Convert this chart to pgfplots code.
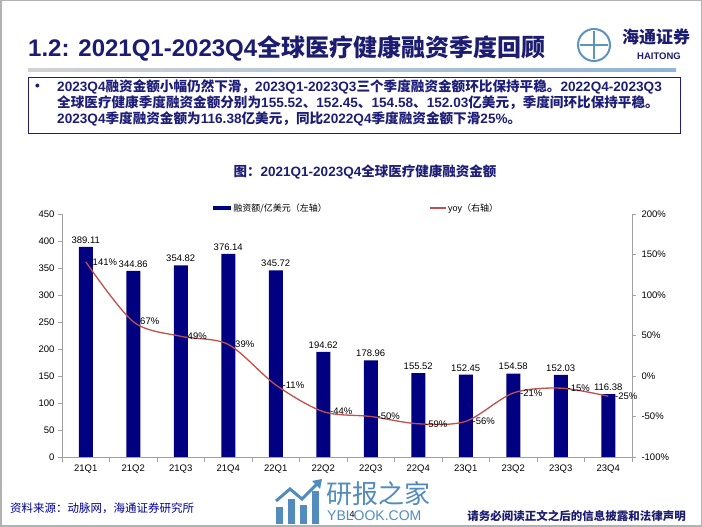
\documentclass[border=0pt]{standalone}
\usepackage{fontspec}
\setmainfont{Liberation Sans}
\newfontfamily\cjk{Noto Sans CJK SC}
\usepackage{pgfplots}
\pgfplotsset{compat=1.18}
\definecolor{navy}{RGB}{0,0,128}
\definecolor{yoyred}{RGB}{192,80,77}
\definecolor{ttl}{RGB}{28,28,112}
\definecolor{txt}{RGB}{30,30,120}
\definecolor{axgray}{RGB}{160,160,160}
\definecolor{wm}{RGB}{52,120,180}
\newcommand\C[1]{{\cjk #1}}
\begin{document}
\begin{tikzpicture}[x=1pt,y=1pt]
\useasboundingbox (0,0) rectangle (702,527);
\fill[white] (0,0) rectangle (702,527);
\draw[gray!60, line width=1.5pt] (0.75,0.75) rectangle (701.25,526.25);
% title
\node[anchor=west, text=ttl, font=\bfseries\fontsize{24}{28}\selectfont, inner sep=0] at (28,479) {1.2: 2021Q1-2023Q4\C{全球医疗健康融资季度回顾}};
% logo
\draw[wm!80, line width=2pt] (594,482) circle (16);
\draw[wm!80, line width=1.5pt] (580,482)--(608,482) (594,468)--(594,496);
\node[text=ttl, font=\cjk\bfseries\fontsize{17}{18}\selectfont, inner sep=0] at (656,490) {海通证券};
\node[text=ttl, font=\bfseries\fontsize{9.5}{10}\selectfont, inner sep=0] at (659,471) {HAITONG};
% underline
\shade[left color=gray!35, right color=wm!55] (28,455.5) rectangle (676,458.5);
% text box
\draw[txt, line width=0.8pt] (28,394) rectangle (680,450);
\begin{scope}[every node/.style={anchor=west, text=txt, font=\bfseries\fontsize{13.6}{14}\selectfont, inner sep=0}]
\node at (35,440) {•};
\node at (57,440) {2023Q4\C{融资金额小幅仍然下滑，}2023Q1-2023Q3\C{三个季度融资金额环比保持平稳。}2022Q4-2023Q3};
\node at (57,424) {\C{全球医疗健康季度融资金额分别为}155.52\C{、}152.45\C{、}154.58\C{、}152.03\C{亿美元，季度间环比保持平稳。}};
\node at (57,408) {2023Q4\C{季度融资金额为}116.38\C{亿美元，同比}2022Q4\C{季度融资金额下滑}25\%\C{。}};
\end{scope}
% chart title
\node[text=txt, font=\bfseries\fontsize{13.5}{15}\selectfont, inner sep=0] at (365,355) {\C{图：}2021Q1-2023Q4\C{全球医疗健康融资金额}};
% left axis with bars
\begin{axis}[
  at={(62pt,70pt)}, anchor=south west, scale only axis,
  width=570pt, height=243pt,
  xmin=-0.5, xmax=11.5, ymin=0, ymax=450,
  axis y line*=left, axis x line*=bottom,
  x axis line style={-}, y axis line style={-},
  axis line style={draw=axgray, line width=0.8pt},
  xtick={0,...,11},
  xticklabels={21Q1,21Q2,21Q3,21Q4,22Q1,22Q2,22Q3,22Q4,23Q1,23Q2,23Q3,23Q4},
  major x tick style={draw=none},
  minor xtick={-0.5,0.5,...,11.5},
  ytick={0,50,...,450},
  tick align=outside, major tick length=4pt, minor tick length=5pt,
  tick style={draw=axgray, line width=0.6pt},
  ticklabel style={font=\fontsize{9.5}{11}\selectfont},
  /pgf/number format/assume math mode=true,
  ybar, bar width=14pt,
  clip=false,
  legend style={at={(0.26,1.025)}, anchor=west, draw=none, fill=none,
    font=\cjk\fontsize{9}{10}\selectfont, legend columns=2,
    /tikz/every even column/.append style={column sep=100pt}},
]
\addplot[fill=navy, draw=none, nodes near coords, point meta=explicit symbolic,
  every node near coord/.append style={font=\fontsize{9.5}{11}\selectfont, text=black},
  legend image code/.code={\fill[navy] (0pt,-2pt) rectangle (18pt,2pt);}]
coordinates {(0,389.11)[389.11] (1,344.86)[344.86] (2,354.82)[354.82] (3,376.14)[376.14]
 (4,345.72)[345.72] (5,194.62)[194.62] (6,178.96)[178.96] (7,155.52)[155.52]
 (8,152.45)[152.45] (9,154.58)[154.58] (10,152.03)[152.03] (11,116.38)[116.38]};
\addlegendentry{融资额/亿美元（左轴）}
\addlegendimage{legend image code/.code={\draw[yoyred, line width=1.3pt] (0pt,0pt)--(16pt,0pt);}}
\addlegendentry{{\fontspec{Liberation Sans}yoy}（右轴）}
\end{axis}
% right axis with yoy line
\begin{axis}[
  at={(62pt,70pt)}, anchor=south west, scale only axis,
  width=570pt, height=243pt,
  xmin=-0.5, xmax=11.5, ymin=-100, ymax=200,
  axis y line*=right, axis x line=none,
  y axis line style={-, draw=axgray, line width=0.8pt},
  ytick={-100,-50,...,200},
  yticklabel={\pgfmathprintnumber{\tick}\%},
  tick align=outside, major tick length=4pt,
  tick style={draw=axgray, line width=0.6pt},
  ticklabel style={font=\fontsize{9.5}{11}\selectfont},
  yticklabel style={xshift=2pt},
  /pgf/number format/assume math mode=true,
  clip=false,
]
\addplot[yoyred, line width=1.3pt, smooth, mark=none, nodes near coords,
  point meta=explicit symbolic,
  every node near coord/.append style={anchor=west, xshift=3pt, yshift=0pt, text=black, font=\fontsize{9.5}{11}\selectfont}]
coordinates {(0,141)[141\%] (1,67)[67\%] (2,49)[49\%] (3,39)[39\%] (4,-11)[-11\%]
 (5,-44)[-44\%] (6,-50)[-50\%] (7,-59)[-59\%] (8,-56)[-56\%] (9,-21)[-21\%]
 (10,-15)[-15\%] (11,-25)[-25\%]};
\end{axis}
% source and footer
\node[anchor=west, text=blue!60!black, font=\cjk\fontsize{11.5}{12}\selectfont, inner sep=0] at (10,19) {资料来源：动脉网，海通证券研究所};
\node[anchor=east, text=ttl, font=\cjk\bfseries\fontsize{11.5}{12}\selectfont, inner sep=0] at (686,11) {请务必阅读正文之后的信息披露和法律声明};
% watermark
\begin{scope}[wm!85]
\fill (276,3) rectangle (283,20);
\fill (288,3) rectangle (295,28);
\fill (300,3) rectangle (307,22);
\fill (312,3) rectangle (319,36);
\draw[line width=3pt] (276,26)--(290,38)--(302,28)--(318,44);
\fill (322,48)--(312,46)--(320,38)--cycle;
\node[anchor=west, inner sep=0, font=\cjk\fontsize{26}{28}\selectfont] at (326,33) {研报之家};
\node[anchor=west, inner sep=0, font=\fontsize{14}{15}\selectfont] at (327,11) {YBLOOK.COM};
\end{scope}
\node[font=\fontsize{9}{10}\selectfont, inner sep=0] at (352,13) {4};
\end{tikzpicture}
\end{document}
